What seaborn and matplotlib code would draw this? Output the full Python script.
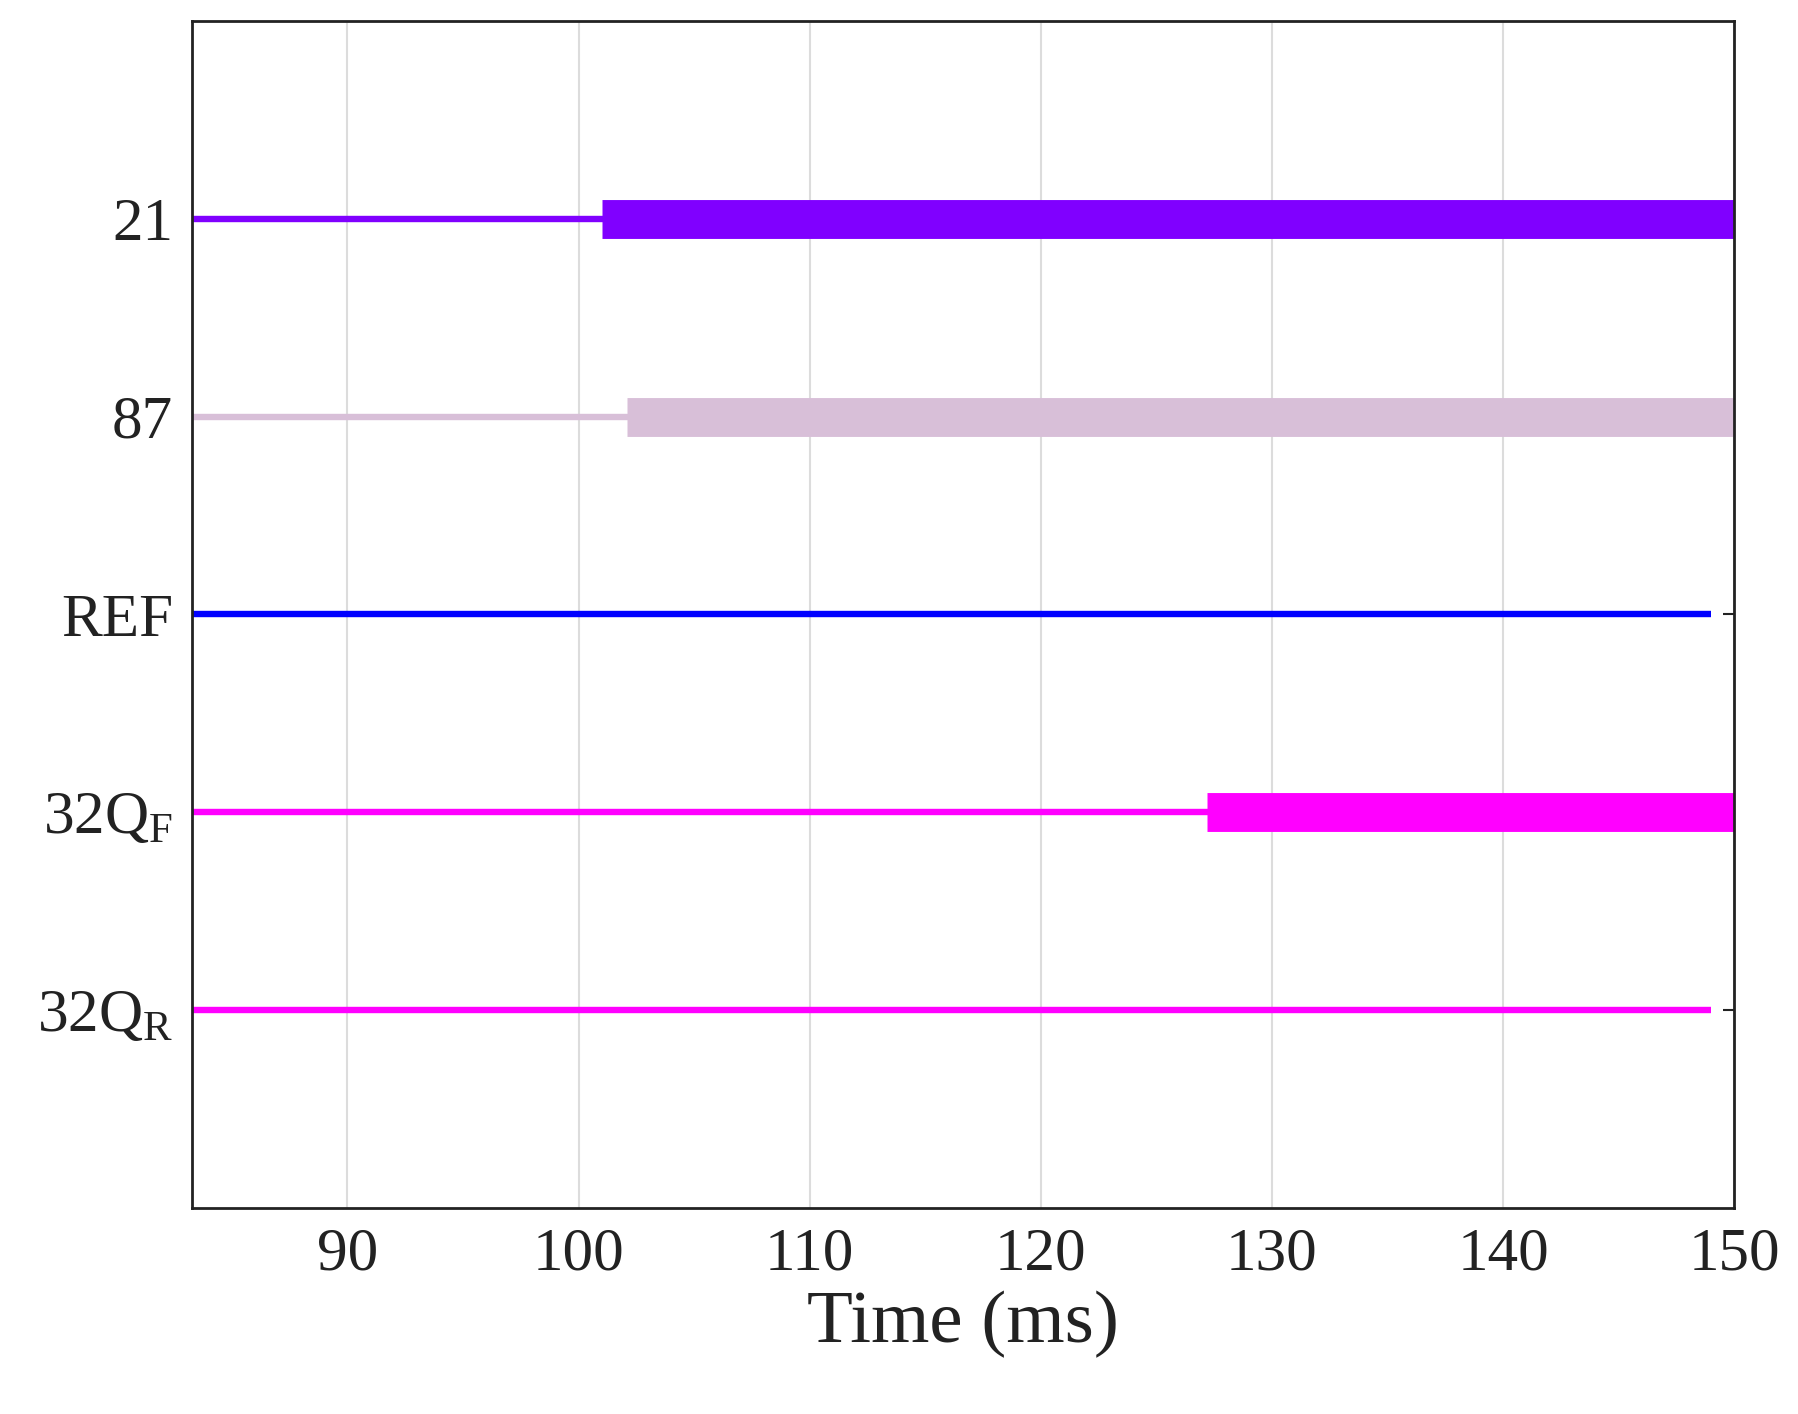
import matplotlib
matplotlib.use("Agg")
import matplotlib.pyplot as plt
import seaborn as sns
import pandas as pd

signals = ["21", "87", "REF", "32Q$_\\mathregular{F}$", "32Q$_\\mathregular{R}$"]
levels = [5, 4, 3, 2, 1]
colors = ["#8000FF", "#D8BFD8", "#0000FF", "#FF00FF", "#FF00FF"]
thin_start = [83.3, 83.3, 83.3, 83.3, 83.3]
thin_end = [150, 150, 149, 150, 149]
trip_start = [101.0, 102.1, None, 127.2, None]
trip_end = 150

sns.set_theme(style="white")
plt.rcParams["font.family"] = ["Liberation Serif", "DejaVu Serif"]
plt.rcParams["mathtext.fontset"] = "custom"
plt.rcParams["mathtext.rm"] = "Liberation Serif"

fig, ax = plt.subplots(figsize=(17.99, 14.14), dpi=100)
fig.subplots_adjust(left=0.107, right=0.964, top=0.985, bottom=0.146)

for i in range(len(signals)):
    df = pd.DataFrame({"t": [thin_start[i], thin_end[i]], "y": [levels[i]] * 2})
    sns.lineplot(data=df, x="t", y="y", color=colors[i], linewidth=4.6, ax=ax,
                 solid_capstyle="butt")
    if trip_start[i] is not None:
        ax.hlines(levels[i], trip_start[i], trip_end, color=colors[i], linewidth=28)

ax.set_xlim(83.3, 150)
ax.set_ylim(0, 6)
ax.set_xticks([90, 100, 110, 120, 130, 140, 150])
ax.set_yticks(levels)
ax.set_yticklabels(signals)
ax.grid(axis="x", color="#dcdcdc", linewidth=1.5)
ax.set_axisbelow(True)
ax.tick_params(direction="in", length=8, width=1.5, labelsize=44, right=True, top=False,
               colors="#222222", pad=14)
ax.set_xlabel("Time (ms)", fontsize=54, color="#222222", labelpad=6)
ax.set_ylabel("")
for s in ax.spines.values():
    s.set_color("#222222")
    s.set_linewidth(2)

plt.savefig("out.png", dpi=100)
